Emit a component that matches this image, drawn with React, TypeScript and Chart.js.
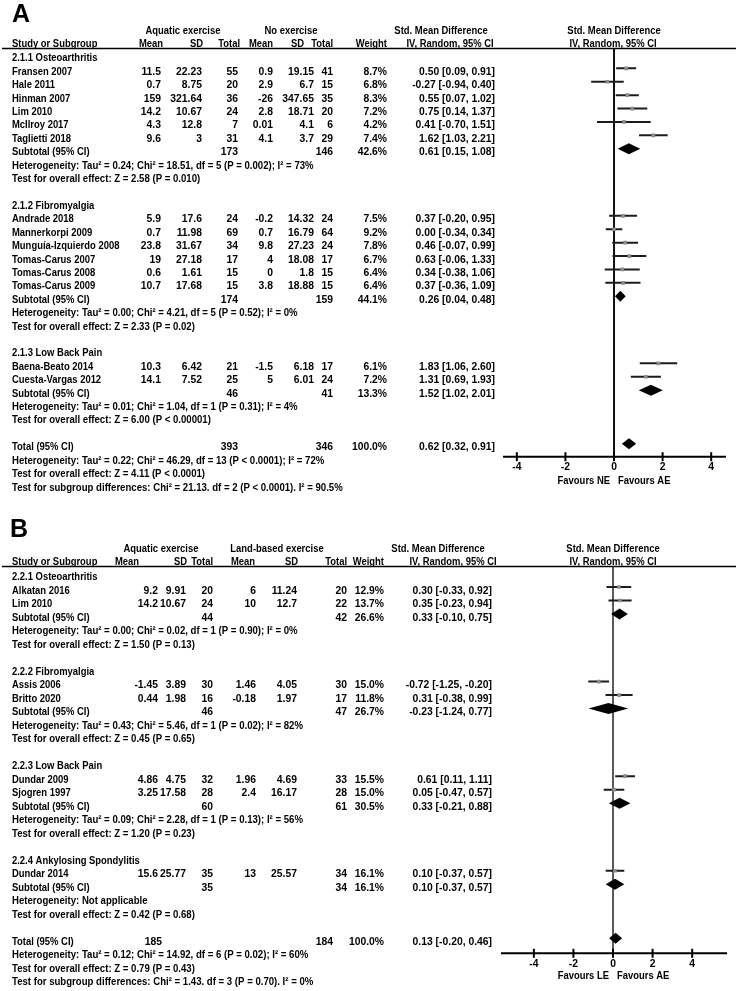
import React, { useEffect, useRef } from "react";
import { Chart, registerables } from "chart.js";

Chart.register(...registerables);

// ---------------- Panel A: aquatic exercise vs no exercise ----------------
const A_HEADS = ["Aquatic exercise", "No exercise"];
const A_GROUPS = ["2.1.1 Osteoarthritis", "2.1.2 Fibromyalgia", "2.1.3 Low Back Pain"];
const A_STUDIES = [
  "Fransen 2007", "Hale 2011", "Hinman 2007", "Lim 2010", "McIlroy 2017", "Taglietti 2018",
  "Andrade 2018", "Mannerkorpi 2009", "Munguía-Izquierdo 2008", "Tomas-Carus 2007", "Tomas-Carus 2008", "Tomas-Carus 2009",
  "Baena-Beato 2014", "Cuesta-Vargas 2012",
];
const A_STUDY_GROUP = [0, 0, 0, 0, 0, 0, 1, 1, 1, 1, 1, 1, 2, 2];
const A_AE_MEAN = [11.5, 0.7, 159, 14.2, 4.3, 9.6, 5.9, 0.7, 23.8, 19, 0.6, 10.7, 10.3, 14.1];
const A_AE_SD = [22.23, 8.75, 321.64, 10.67, 12.8, 3, 17.6, 11.98, 31.67, 27.18, 1.61, 17.68, 6.42, 7.52];
const A_AE_TOTAL = [55, 20, 36, 24, 7, 31, 24, 69, 34, 17, 15, 15, 21, 25];
const A_CT_MEAN = [0.9, 2.9, -26, 2.8, 0.01, 4.1, -0.2, 0.7, 9.8, 4, 0, 3.8, -1.5, 5];
const A_CT_SD = [19.15, 6.7, 347.65, 18.71, 4.1, 3.7, 14.32, 16.79, 27.23, 18.08, 1.8, 18.88, 6.18, 6.01];
const A_CT_TOTAL = [41, 15, 35, 20, 6, 29, 24, 64, 24, 17, 15, 15, 17, 24];
const A_WEIGHT = [8.7, 6.8, 8.3, 7.2, 4.2, 7.4, 7.5, 9.2, 7.8, 6.7, 6.4, 6.4, 6.1, 7.2];
const A_SMD = [0.5, -0.27, 0.55, 0.75, 0.41, 1.62, 0.37, 0.0, 0.46, 0.63, 0.34, 0.37, 1.83, 1.31];
const A_LO = [0.09, -0.94, 0.07, 0.14, -0.7, 1.03, -0.2, -0.34, -0.07, -0.06, -0.38, -0.36, 1.06, 0.69];
const A_HI = [0.91, 0.4, 1.02, 1.37, 1.51, 2.21, 0.95, 0.34, 0.99, 1.33, 1.06, 1.09, 2.6, 1.93];
const A_SUB_AE_TOTAL = [173, 174, 46];
const A_SUB_CT_TOTAL = [146, 159, 41];
const A_SUB_WEIGHT = [42.6, 44.1, 13.3];
const A_SUB_SMD = [0.61, 0.26, 1.52];
const A_SUB_LO = [0.15, 0.04, 1.02];
const A_SUB_HI = [1.08, 0.48, 2.01];
const A_SUB_HET = [
  "Heterogeneity: Tau² = 0.24; Chi² = 18.51, df = 5 (P = 0.002); I² = 73%",
  "Heterogeneity: Tau² = 0.00; Chi² = 4.21, df = 5 (P = 0.52); I² = 0%",
  "Heterogeneity: Tau² = 0.01; Chi² = 1.04, df = 1 (P = 0.31); I² = 4%",
];
const A_SUB_Z = [
  "Test for overall effect: Z = 2.58 (P = 0.010)",
  "Test for overall effect: Z = 2.33 (P = 0.02)",
  "Test for overall effect: Z = 6.00 (P < 0.00001)",
];
const A_TOTAL_N = [393, 346];
const A_TOTAL_EST = [0.62, 0.32, 0.91];
const A_TOTAL_TEXT = [
  "Heterogeneity: Tau² = 0.22; Chi² = 46.29, df = 13 (P < 0.0001); I² = 72%",
  "Test for overall effect: Z = 4.11 (P < 0.0001)",
  "Test for subgroup differences: Chi² = 21.13. df = 2 (P < 0.0001). I² = 90.5%",
];
const A_TICKS = [-4, -2, 0, 2, 4];
const A_FAVOURS = ["Favours NE", "Favours AE"];

// ---------------- Panel B: aquatic exercise vs land-based exercise ----------------
const B_HEADS = ["Aquatic exercise", "Land-based exercise"];
const B_GROUPS = ["2.2.1 Osteoarthritis", "2.2.2 Fibromyalgia", "2.2.3 Low Back Pain", "2.2.4 Ankylosing Spondylitis"];
const B_STUDIES = ["Alkatan 2016", "Lim 2010", "Assis 2006", "Britto 2020", "Dundar 2009", "Sjogren 1997", "Dundar 2014"];
const B_STUDY_GROUP = [0, 0, 1, 1, 2, 2, 3];
const B_AE_MEAN = [9.2, 14.2, -1.45, 0.44, 4.86, 3.25, 15.6];
const B_AE_SD = [9.91, 10.67, 3.89, 1.98, 4.75, 17.58, 25.77];
const B_AE_TOTAL = [20, 24, 30, 16, 32, 28, 35];
const B_CT_MEAN = [6, 10, 1.46, -0.18, 1.96, 2.4, 13];
const B_CT_SD = [11.24, 12.7, 4.05, 1.97, 4.69, 16.17, 25.57];
const B_CT_TOTAL = [20, 22, 30, 17, 33, 28, 34];
const B_WEIGHT = [12.9, 13.7, 15.0, 11.8, 15.5, 15.0, 16.1];
const B_SMD = [0.3, 0.35, -0.72, 0.31, 0.61, 0.05, 0.1];
const B_LO = [-0.33, -0.23, -1.25, -0.38, 0.11, -0.47, -0.37];
const B_HI = [0.92, 0.94, -0.2, 0.99, 1.11, 0.57, 0.57];
const B_SUB_AE_TOTAL = [44, 46, 60, 35];
const B_SUB_CT_TOTAL = [42, 47, 61, 34];
const B_SUB_WEIGHT = [26.6, 26.7, 30.5, 16.1];
const B_SUB_SMD = [0.33, -0.23, 0.33, 0.1];
const B_SUB_LO = [-0.1, -1.24, -0.21, -0.37];
const B_SUB_HI = [0.75, 0.77, 0.88, 0.57];
const B_SUB_HET = [
  "Heterogeneity: Tau² = 0.00; Chi² = 0.02, df = 1 (P = 0.90); I² = 0%",
  "Heterogeneity: Tau² = 0.43; Chi² = 5.46, df = 1 (P = 0.02); I² = 82%",
  "Heterogeneity: Tau² = 0.09; Chi² = 2.28, df = 1 (P = 0.13); I² = 56%",
  "Heterogeneity: Not applicable",
];
const B_SUB_Z = [
  "Test for overall effect: Z = 1.50 (P = 0.13)",
  "Test for overall effect: Z = 0.45 (P = 0.65)",
  "Test for overall effect: Z = 1.20 (P = 0.23)",
  "Test for overall effect: Z = 0.42 (P = 0.68)",
];
const B_TOTAL_N = [185, 184];
const B_TOTAL_EST = [0.13, -0.2, 0.46];
const B_TOTAL_TEXT = [
  "Heterogeneity: Tau² = 0.12; Chi² = 14.92, df = 6 (P = 0.02); I² = 60%",
  "Test for overall effect: Z = 0.79 (P = 0.43)",
  "Test for subgroup differences: Chi² = 1.43. df = 3 (P = 0.70). I² = 0%",
];
const B_TICKS = [-4, -2, 0, 2, 4];
const B_FAVOURS = ["Favours LE", "Favours AE"];

// ---------------- layout (styles only) ----------------
const W = 736;
const H = 991;
const FONT = 'bold 11.5px "Liberation Sans", Arial, sans-serif';
const SX_LABEL = 0.82;
const SX_STAT = 0.835;
const SX_NUM = 0.9;

const LAYOUT_A = {
  letter: "A", letterX: 12, letterY: 22,
  row0: 54.9, step: 13.41, top: 48.5, bottom: 456.7, left: 503, right: 726, xMin: -4.57, xMax: 4.61,
  head1Y: 33.5, head2Y: 46.5,
  head1: { ae: 183, ct: 291, smd: 441, plot: 614 },
  head2: { name: 12, aeMean: 163, aeSd: 203, aeTot: 240, ctMean: 273, ctSd: 304, ctTot: 333, weight: 387, ci: 450, plot: 613 },
  cols: { name: 12, aeMean: 161, aeSd: 202, aeTot: 238, ctMean: 273, ctSd: 314, ctTot: 333, weight: 387, ci: 495 },
  totalCols: { aeTot: 238, ctTot: 333 },
  zeroWidth: 2, zeroColor: "#111",
  tickLabelDy: 13.3, favoursDy: 27.3,
};
const LAYOUT_B = {
  letter: "B", letterX: 10, letterY: 537,
  row0: 573.5, step: 13.51, top: 566.5, bottom: 953.3, left: 501, right: 727, xMin: -5.66, xMax: 5.76,
  head1Y: 552, head2Y: 565,
  head1: { ae: 161, ct: 277, smd: 438, plot: 613 },
  head2: { name: 12, aeMean: 139, aeSd: 187, aeTot: 213, ctMean: 255, ctSd: 298, ctTot: 347, weight: 384, ci: 453, plot: 613 },
  cols: { name: 12, aeMean: 158, aeSd: 186, aeTot: 213, ctMean: 256, ctSd: 297, ctTot: 347, weight: 384, ci: 492 },
  totalCols: { aeTot: 162, ctTot: 333 },
  zeroWidth: 1.6, zeroColor: "#333",
  tickLabelDy: 13.7, favoursDy: 25.7,
};

const PANEL_A = {
  heads: A_HEADS, groups: A_GROUPS, studies: A_STUDIES, studyGroup: A_STUDY_GROUP,
  aeMean: A_AE_MEAN, aeSd: A_AE_SD, aeTot: A_AE_TOTAL, ctMean: A_CT_MEAN, ctSd: A_CT_SD, ctTot: A_CT_TOTAL,
  weight: A_WEIGHT, smd: A_SMD, lo: A_LO, hi: A_HI,
  subAe: A_SUB_AE_TOTAL, subCt: A_SUB_CT_TOTAL, subWeight: A_SUB_WEIGHT, subSmd: A_SUB_SMD, subLo: A_SUB_LO, subHi: A_SUB_HI,
  subHet: A_SUB_HET, subZ: A_SUB_Z, totalN: A_TOTAL_N, totalEst: A_TOTAL_EST, totalText: A_TOTAL_TEXT,
  ticks: A_TICKS, favours: A_FAVOURS,
};
const PANEL_B = {
  heads: B_HEADS, groups: B_GROUPS, studies: B_STUDIES, studyGroup: B_STUDY_GROUP,
  aeMean: B_AE_MEAN, aeSd: B_AE_SD, aeTot: B_AE_TOTAL, ctMean: B_CT_MEAN, ctSd: B_CT_SD, ctTot: B_CT_TOTAL,
  weight: B_WEIGHT, smd: B_SMD, lo: B_LO, hi: B_HI,
  subAe: B_SUB_AE_TOTAL, subCt: B_SUB_CT_TOTAL, subWeight: B_SUB_WEIGHT, subSmd: B_SUB_SMD, subLo: B_SUB_LO, subHi: B_SUB_HI,
  subHet: B_SUB_HET, subZ: B_SUB_Z, totalN: B_TOTAL_N, totalEst: B_TOTAL_EST, totalText: B_TOTAL_TEXT,
  ticks: B_TICKS, favours: B_FAVOURS,
};

type Row = { kind: string; label?: string; idx?: number };

function buildRows(p: any): Row[] {
  const rows: Row[] = [];
  p.groups.forEach((g: string, gi: number) => {
    rows.push({ kind: "group", label: g });
    p.studies.forEach((_s: string, si: number) => {
      if (p.studyGroup[si] === gi) rows.push({ kind: "study", idx: si });
    });
    rows.push({ kind: "subtotal", idx: gi });
    rows.push({ kind: "text", label: p.subHet[gi] });
    rows.push({ kind: "text", label: p.subZ[gi] });
    rows.push({ kind: "blank" });
  });
  rows.push({ kind: "total" });
  p.totalText.forEach((t: string) => rows.push({ kind: "text", label: t }));
  return rows;
}

const fmtCI = (e: number, l: number, h: number) => `${e.toFixed(2)} [${l.toFixed(2)}, ${h.toFixed(2)}]`;
const fmtW = (w: number) => `${w.toFixed(1)}%`;

function txt(ctx: CanvasRenderingContext2D, s: string, x: number, y: number, align: CanvasTextAlign, sx: number) {
  ctx.save();
  ctx.translate(x, y);
  ctx.scale(sx, 1);
  ctx.textAlign = align;
  ctx.fillText(s, 0, 0);
  ctx.restore();
}

function ForestPanel({ p, L }: { p: any; L: any }) {
  const ref = useRef<HTMLCanvasElement | null>(null);
  useEffect(() => {
    const canvas = ref.current!;
    const rows = buildRows(p);
    const studyRow: number[] = [];
    const subRow: number[] = [];
    let totalRow = 0;
    rows.forEach((r, i) => {
      if (r.kind === "study") studyRow[r.idx!] = i;
      if (r.kind === "subtotal") subRow[r.idx!] = i;
      if (r.kind === "total") totalRow = i;
    });

    const datasets: any[] = [];
    datasets.push({
      label: "estimate",
      data: p.smd.map((v: number, i: number) => ({ x: v, y: studyRow[i] })),
      pointStyle: "rect",
      pointRadius: 2.6,
      backgroundColor: "#8c8c8c",
      borderWidth: 0,
      showLine: false,
    });
    p.smd.forEach((_v: number, i: number) => {
      datasets.push({
        label: "ci" + i,
        data: [
          { x: p.lo[i], y: studyRow[i] },
          { x: p.hi[i], y: studyRow[i] },
        ],
        showLine: true,
        borderColor: "#1c1c1c",
        borderWidth: 2,
        pointRadius: 0,
        fill: false,
      });
    });

    const diamonds: number[][] = p.subSmd.map((e: number, g: number) => [e, p.subLo[g], p.subHi[g], subRow[g]]);
    diamonds.push([p.totalEst[0], p.totalEst[1], p.totalEst[2], totalRow]);

    const yMin = (L.top - L.row0) / L.step;
    const yMax = (L.bottom - L.row0) / L.step;

    const plugin = {
      id: "forest" + L.letter,
      beforeDatasetsDraw(chart: any) {
        const ctx: CanvasRenderingContext2D = chart.ctx;
        const xs = chart.scales.x;
        const ca = chart.chartArea;
        ctx.save();
        ctx.strokeStyle = "#000";
        ctx.lineWidth = 1.5;
        ctx.beginPath();
        ctx.moveTo(2, ca.top);
        ctx.lineTo(W, ca.top);
        ctx.stroke();
        const x0 = xs.getPixelForValue(0);
        ctx.strokeStyle = L.zeroColor;
        ctx.lineWidth = L.zeroWidth;
        ctx.beginPath();
        ctx.moveTo(x0, ca.top);
        ctx.lineTo(x0, ca.bottom);
        ctx.stroke();
        ctx.strokeStyle = "#000";
        ctx.lineWidth = 2;
        ctx.beginPath();
        ctx.moveTo(ca.left, ca.bottom);
        ctx.lineTo(ca.right, ca.bottom);
        ctx.stroke();
        ctx.font = FONT;
        ctx.fillStyle = "#000";
        p.ticks.forEach((t: number) => {
          const x = xs.getPixelForValue(t);
          ctx.beginPath();
          ctx.moveTo(x, ca.bottom - 4.5);
          ctx.lineTo(x, ca.bottom + 4.5);
          ctx.stroke();
          txt(ctx, String(t), x, ca.bottom + L.tickLabelDy, "center", SX_NUM);
        });
        txt(ctx, p.favours[0], x0 - 4, ca.bottom + L.favoursDy, "right", SX_LABEL);
        txt(ctx, p.favours[1], x0 + 4, ca.bottom + L.favoursDy, "left", SX_LABEL);
        ctx.restore();
      },
      afterDatasetsDraw(chart: any) {
        const ctx: CanvasRenderingContext2D = chart.ctx;
        const xs = chart.scales.x;
        const ys = chart.scales.y;
        ctx.save();
        ctx.fillStyle = "#000";
        diamonds.forEach(([e, lo, hi, r]) => {
          const y = ys.getPixelForValue(r);
          const hh = 5.5;
          ctx.beginPath();
          ctx.moveTo(xs.getPixelForValue(lo), y);
          ctx.lineTo(xs.getPixelForValue(e), y - hh);
          ctx.lineTo(xs.getPixelForValue(hi), y);
          ctx.lineTo(xs.getPixelForValue(e), y + hh);
          ctx.closePath();
          ctx.fill();
        });

        ctx.font = 'bold 25px "Liberation Sans", Arial, sans-serif';
        ctx.textAlign = "left";
        ctx.fillText(L.letter, L.letterX, L.letterY);

        ctx.font = FONT;
        const h1 = L.head1;
        txt(ctx, p.heads[0], h1.ae, L.head1Y, "center", SX_LABEL);
        txt(ctx, p.heads[1], h1.ct, L.head1Y, "center", SX_LABEL);
        txt(ctx, "Std. Mean Difference", h1.smd, L.head1Y, "center", SX_LABEL);
        txt(ctx, "Std. Mean Difference", h1.plot, L.head1Y, "center", SX_LABEL);
        const h2 = L.head2;
        txt(ctx, "Study or Subgroup", h2.name, L.head2Y, "left", SX_LABEL);
        txt(ctx, "Mean", h2.aeMean, L.head2Y, "right", SX_LABEL);
        txt(ctx, "SD", h2.aeSd, L.head2Y, "right", SX_LABEL);
        txt(ctx, "Total", h2.aeTot, L.head2Y, "right", SX_LABEL);
        txt(ctx, "Mean", h2.ctMean, L.head2Y, "right", SX_LABEL);
        txt(ctx, "SD", h2.ctSd, L.head2Y, "right", SX_LABEL);
        txt(ctx, "Total", h2.ctTot, L.head2Y, "right", SX_LABEL);
        txt(ctx, "Weight", h2.weight, L.head2Y, "right", SX_LABEL);
        txt(ctx, "IV, Random, 95% CI", h2.ci, L.head2Y, "center", SX_LABEL);
        txt(ctx, "IV, Random, 95% CI", h2.plot, L.head2Y, "center", SX_LABEL);

        const c = L.cols;
        rows.forEach((r, i) => {
          const y = ys.getPixelForValue(i) + 6.5;
          if (r.kind === "group") {
            txt(ctx, r.label!, c.name, y, "left", SX_LABEL);
          } else if (r.kind === "text") {
            txt(ctx, r.label!, c.name, y, "left", SX_STAT);
          } else if (r.kind === "study") {
            const k = r.idx!;
            txt(ctx, p.studies[k], c.name, y, "left", SX_LABEL);
            txt(ctx, String(p.aeMean[k]), c.aeMean, y, "right", SX_NUM);
            txt(ctx, String(p.aeSd[k]), c.aeSd, y, "right", SX_NUM);
            txt(ctx, String(p.aeTot[k]), c.aeTot, y, "right", SX_NUM);
            txt(ctx, String(p.ctMean[k]), c.ctMean, y, "right", SX_NUM);
            txt(ctx, String(p.ctSd[k]), c.ctSd, y, "right", SX_NUM);
            txt(ctx, String(p.ctTot[k]), c.ctTot, y, "right", SX_NUM);
            txt(ctx, fmtW(p.weight[k]), c.weight, y, "right", SX_NUM);
            txt(ctx, fmtCI(p.smd[k], p.lo[k], p.hi[k]), c.ci, y, "right", SX_NUM);
          } else if (r.kind === "subtotal") {
            const g = r.idx!;
            txt(ctx, "Subtotal (95% CI)", c.name, y, "left", SX_LABEL);
            txt(ctx, String(p.subAe[g]), c.aeTot, y, "right", SX_NUM);
            txt(ctx, String(p.subCt[g]), c.ctTot, y, "right", SX_NUM);
            txt(ctx, fmtW(p.subWeight[g]), c.weight, y, "right", SX_NUM);
            txt(ctx, fmtCI(p.subSmd[g], p.subLo[g], p.subHi[g]), c.ci, y, "right", SX_NUM);
          } else if (r.kind === "total") {
            txt(ctx, "Total (95% CI)", c.name, y, "left", SX_LABEL);
            txt(ctx, String(p.totalN[0]), L.totalCols.aeTot, y, "right", SX_NUM);
            txt(ctx, String(p.totalN[1]), L.totalCols.ctTot, y, "right", SX_NUM);
            txt(ctx, fmtW(100), c.weight, y, "right", SX_NUM);
            txt(ctx, fmtCI(p.totalEst[0], p.totalEst[1], p.totalEst[2]), c.ci, y, "right", SX_NUM);
          }
        });
        ctx.restore();
      },
    };

    const chart = new Chart(canvas, {
      type: "scatter",
      data: { datasets },
      options: {
        animation: false,
        responsive: false,
        events: [],
        layout: { padding: { left: L.left, right: W - L.right, top: L.top, bottom: H - L.bottom } },
        plugins: { legend: { display: false }, tooltip: { enabled: false } },
        scales: {
          x: { type: "linear", min: L.xMin, max: L.xMax, display: false },
          y: { type: "linear", min: yMin, max: yMax, reverse: true, display: false },
        },
      },
      plugins: [plugin],
    } as any);
    return () => chart.destroy();
  }, [p, L]);
  return (
    <canvas
      ref={ref}
      width={W}
      height={H}
      style={{ position: "absolute", left: 0, top: 0, width: W, height: H }}
    />
  );
}

export default function App() {
  return (
    <div style={{ position: "absolute", left: 0, top: 0, width: W, height: H, background: "#fff", overflow: "hidden" }}>
      <ForestPanel p={PANEL_A} L={LAYOUT_A} />
      <ForestPanel p={PANEL_B} L={LAYOUT_B} />
    </div>
  );
}
